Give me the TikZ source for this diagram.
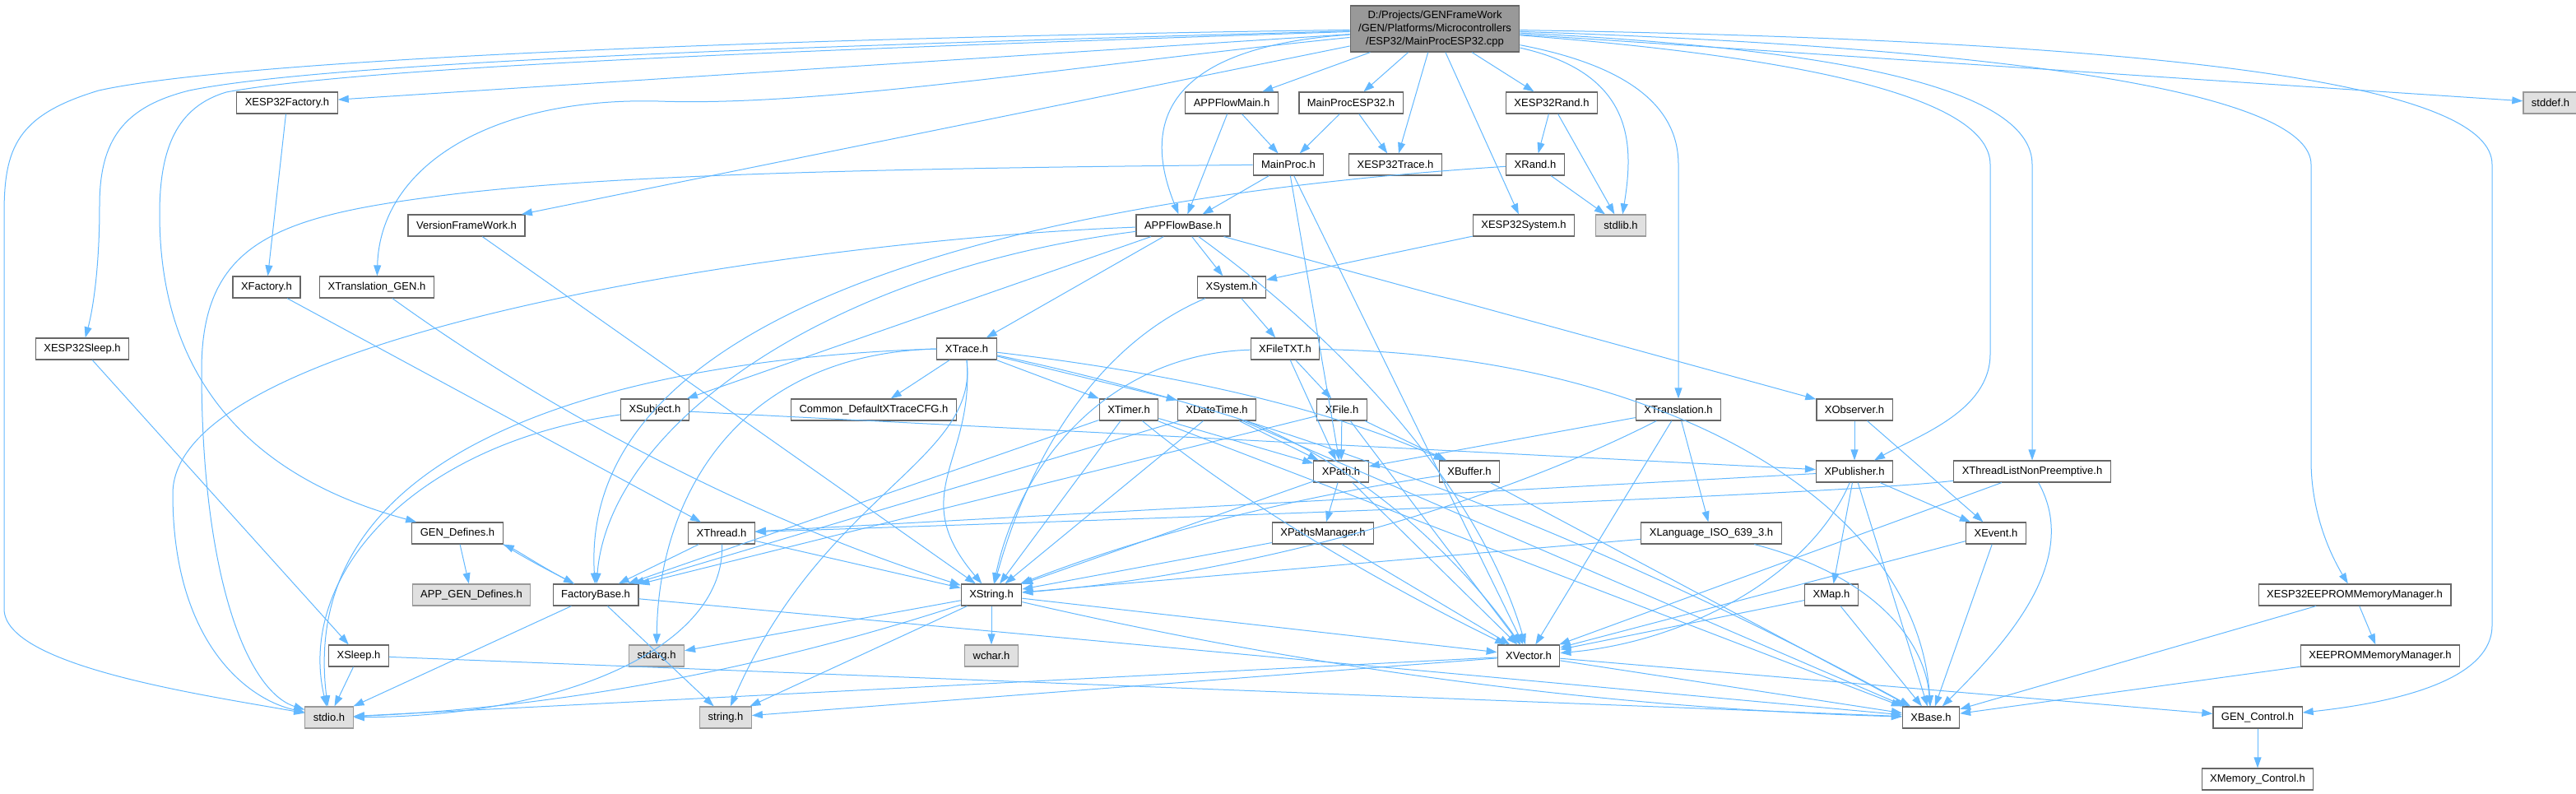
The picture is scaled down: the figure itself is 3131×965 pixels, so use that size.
\documentclass[tikz,border=0pt]{standalone}
\usepackage{fontspec}
\setmainfont{Liberation Sans}
\usepackage{xcolor}
\usepackage{tikz}
\usetikzlibrary{arrows.meta}

\definecolor{edgeblue}{RGB}{99,184,255}
\definecolor{boxline}{RGB}{102,102,102}
\definecolor{sysline}{RGB}{153,153,153}
\definecolor{sysfill}{RGB}{224,224,224}
\definecolor{mainfill}{RGB}{153,153,153}

\begin{document}
\begin{tikzpicture}[
  x=1pt, y=-1pt,
  hdr/.style={draw=boxline, fill=white, line width=1.2pt, inner xsep=10pt,
    minimum height=26pt, font=\fontsize{13}{15}\selectfont},
  syshdr/.style={hdr, draw=sysline, fill=sysfill},
  mainfile/.style={hdr, fill=mainfill, align=center, inner ysep=6pt,
    font=\fontsize{13}{16}\selectfont},
  incl/.style={draw=edgeblue, line width=1pt, -{Triangle[length=13pt,width=9pt]}}
  ]

\useasboundingbox (0,0) rectangle (3131,965);

\node[mainfile] (main) at (1744,35) {D:/Projects/GENFrameWork\\/GEN/Platforms/Microcontrollers\\/ESP32/MainProcESP32.cpp};

\node[hdr] (fac) at (349,125) {XESP32Factory.h};
\node[hdr] (apm) at (1497,125) {APPFlowMain.h};
\node[hdr] (mpe) at (1642,125) {MainProcESP32.h};
\node[hdr] (erand) at (1886,125) {XESP32Rand.h};
\node[syshdr] (stddef) at (3100,125) {stddef.h};

\node[hdr] (mproc) at (1566,200) {MainProc.h};
\node[hdr] (etrace) at (1696,200) {XESP32Trace.h};
\node[hdr] (rand) at (1866,200) {XRand.h};

\node[hdr] (ver) at (567,274) {VersionFrameWork.h};
\node[hdr] (apb) at (1438,274) {APPFlowBase.h};
\node[hdr] (esys) at (1852,274) {XESP32System.h};
\node[syshdr] (stdlib) at (1970,274) {stdlib.h};

\node[hdr] (xfac) at (324,349) {XFactory.h};
\node[hdr] (tgen) at (458,349) {XTranslation\_GEN.h};
\node[hdr] (sys) at (1497,349) {XSystem.h};

\node[hdr] (esleep) at (100,424) {XESP32Sleep.h};
\node[hdr] (trace) at (1175,424) {XTrace.h};
\node[hdr] (ftxt) at (1562,424) {XFileTXT.h};

\node[hdr] (subj) at (796,498) {XSubject.h};
\node[hdr] (cfg) at (1062,498) {Common\_DefaultXTraceCFG.h};
\node[hdr] (timer) at (1372,498) {XTimer.h};
\node[hdr] (dtime) at (1479,498) {XDateTime.h};
\node[hdr] (file) at (1631,498) {XFile.h};
\node[hdr] (trans) at (2040,498) {XTranslation.h};
\node[hdr] (obs) at (2254,498) {XObserver.h};

\node[hdr] (path) at (1630,573) {XPath.h};
\node[hdr] (buf) at (1786,573) {XBuffer.h};
\node[hdr] (pub) at (2254,573) {XPublisher.h};
\node[hdr] (tlist) at (2470,573) {XThreadListNonPreemptive.h};

\node[hdr] (gdef) at (556,648) {GEN\_Defines.h};
\node[hdr] (thread) at (877,648) {XThread.h};
\node[hdr] (pman) at (1608,648) {XPathsManager.h};
\node[hdr] (lang) at (2080,648) {XLanguage\_ISO\_639\_3.h};
\node[hdr] (event) at (2426,648) {XEvent.h};

\node[syshdr] (agdef) at (573,723) {APP\_GEN\_Defines.h};
\node[hdr] (fbase) at (724,723) {FactoryBase.h};
\node[hdr] (str) at (1205,723) {XString.h};
\node[hdr] (map) at (2226,723) {XMap.h};
\node[hdr] (eeesp) at (2862,723) {XESP32EEPROMMemoryManager.h};

\node[hdr] (sleep) at (436,797) {XSleep.h};
\node[syshdr] (stdarg) at (798,797) {stdarg.h};
\node[syshdr] (wchar) at (1205,797) {wchar.h};
\node[hdr] (vec) at (1858,797) {XVector.h};
\node[hdr] (eeprom) at (2893,797) {XEEPROMMemoryManager.h};

\node[syshdr] (stdio) at (400,872) {stdio.h};
\node[syshdr] (string) at (882,872) {string.h};
\node[hdr] (base) at (2347,872) {XBase.h};
\node[hdr] (gctrl) at (2744,872) {GEN\_Control.h};

\node[hdr] (memc) at (2744,947) {XMemory\_Control.h};

\path (main) edge[incl] (fac) edge[incl] (ver) edge[incl] (apm) edge[incl] (mpe)
  edge[incl] (etrace) edge[incl] (esys) edge[incl] (erand) edge[incl] (stddef);
\draw[incl] (main) .. controls (1000,45) and (300,70) .. (120,110)
  .. controls (20,140) and (5,180) .. (5,260) -- (5,740)
  .. controls (5,810) and (250,845) .. (stdio);
\draw[incl] (main) .. controls (1000,55) and (400,75) .. (230,110)
  .. controls (150,130) and (121,170) .. (121,250)
  .. controls (121,330) and (112,380) .. (esleep);
\draw[incl] (main) .. controls (1000,60) and (450,80) .. (275,112)
  .. controls (215,130) and (194,180) .. (194,260)
  .. controls (194,520) and (380,600) .. (gdef);
\draw[incl] (main) .. controls (1300,80) and (1000,130) .. (800,123)
  .. controls (600,118) and (462,200) .. (tgen);
\draw[incl] (main) .. controls (1380,60) and (1400,180) .. (apb);
\draw[incl] (main) .. controls (1990,90) and (1985,180) .. (stdlib);
\draw[incl] (main) .. controls (1980,80) and (2040,130) .. (2040,200) -- (trans);
\draw[incl] (main) .. controls (2200,70) and (2419,120) .. (2419,200) -- (2419,430)
  .. controls (2419,500) and (2330,530) .. (pub);
\draw[incl] (main) .. controls (2250,60) and (2470,110) .. (2470,200) -- (tlist);
\draw[incl] (main) .. controls (2500,60) and (2809,120) .. (2809,200) -- (2809,560)
  .. controls (2809,620) and (2830,670) .. (eeesp);
\draw[incl] (main) .. controls (2700,50) and (3029,110) .. (3029,200) -- (3029,760)
  .. controls (3029,830) and (2900,855) .. (gctrl);

\path (apm) edge[incl] (apb) edge[incl] (mproc);
\path (mpe) edge[incl] (mproc) edge[incl] (etrace);
\path (mproc) edge[incl] (apb) edge[incl] (path) edge[incl] (vec);
\draw[incl] (mproc) .. controls (1000,205) and (700,215) .. (520,240)
  .. controls (330,265) and (245,300) .. (245,450)
  .. controls (245,700) and (300,840) .. (stdio);
\path (erand) edge[incl] (rand) edge[incl] (stdlib);
\path (rand) edge[incl] (stdlib);
\draw[incl] (rand) .. controls (1400,230) and (700,330) .. (fbase);
\path (esys) edge[incl] (sys);
\path (fac) edge[incl] (xfac);
\path (xfac) edge[incl] (thread);
\draw[incl] (tgen) .. controls (687,514) and (936,638) .. (str);
\path (ver) edge[incl] (str);
\path (esleep) edge[incl] (sleep);

\path (apb) edge[incl] (sys) edge[incl] (trace) edge[incl] (subj) edge[incl] (obs);
\draw[incl] (apb) .. controls (1640,420) and (1800,600) .. (vec);
\draw[incl] (apb) .. controls (1000,290) and (210,400) .. (210,600)
  .. controls (210,780) and (300,850) .. (stdio);
\draw[incl] (apb) .. controls (1000,330) and (740,520) .. (fbase);

\path (sys) edge[incl] (ftxt);
\draw[incl] (sys) .. controls (1330,420) and (1250,560) .. (str);
\path (ftxt) edge[incl] (file) edge[incl] (path);
\draw[incl] (ftxt) .. controls (1350,430) and (1240,560) .. (str);
\draw[incl] (ftxt) .. controls (2000,430) and (2330,600) .. (base);

\path (trace) edge[incl] (cfg) edge[incl] (timer) edge[incl] (dtime);
\draw[incl] (trace.south) .. controls (1185,560) and (1100,600) .. (str);
\draw[incl] (trace.south) .. controls (1190,560) and (1000,600) .. (string);
\draw[incl] (trace.west) .. controls (900,430) and (800,600) .. (stdarg);
\draw[incl] (trace.west) .. controls (950,430) and (350,470) .. (stdio);
\draw[incl] (trace) .. controls (1400,450) and (1600,490) .. (buf);
\draw[incl] (trace) .. controls (1560,505) and (1960,660) .. (base);

\path (subj) edge[incl] (pub);
\draw[incl] (subj) .. controls (500,540) and (360,700) .. (stdio);

\path (timer) edge[incl] (str) edge[incl] (path) edge[incl] (base) edge[incl] (fbase);
\draw[incl] (timer) .. controls (1520,620) and (1700,720) .. (vec);
\path (dtime) edge[incl] (str) edge[incl] (path) edge[incl] (base) edge[incl] (fbase);
\draw[incl] (dtime) .. controls (1640,560) and (1760,660) .. (vec);
\path (file) edge[incl] (path) edge[incl] (buf) edge[incl] (vec) edge[incl] (fbase);

\path (path) edge[incl] (pman) edge[incl] (str) edge[incl] (vec);
\path (buf) edge[incl] (base);
\draw[incl] (buf) .. controls (1600,600) and (1420,640) .. (str);
\path (pman) edge[incl] (str) edge[incl] (vec);

\path (trans) edge[incl] (path) edge[incl] (lang) edge[incl] (vec);
\draw[incl] (trans) .. controls (1800,620) and (1500,700) .. (str);
\path (lang) edge[incl] (str);
\draw[incl] (lang) .. controls (2280,700) and (2340,780) .. (base);

\path (obs) edge[incl] (pub) edge[incl] (event);
\path (pub) edge[incl] (thread) edge[incl] (event) edge[incl] (map) edge[incl] (base);
\draw[incl] (pub) .. controls (2200,700) and (2050,780) .. (vec);
\path (tlist) edge[incl] (vec);
\draw[incl] (tlist) .. controls (2530,680) and (2440,780) .. (base);
\draw[incl] (tlist) .. controls (2200,605) and (1100,640) .. (thread);

\path (thread) edge[incl] (str) edge[incl] (fbase);
\draw[incl] (thread) .. controls (882,780) and (700,870) .. (stdio);
\path (event) edge[incl] (vec) edge[incl] (base);
\path (map) edge[incl] (vec) edge[incl] (base);

\path (gdef) edge[incl] (agdef);
\draw[incl] (gdef.south east) .. controls (640,680) and (680,700) .. (fbase);
\draw[incl] (fbase) .. controls (660,690) and (630,670) .. (gdef.south east);
\path (fbase) edge[incl] (stdio) edge[incl] (string) edge[incl] (base);

\path (str) edge[incl] (stdarg) edge[incl] (wchar) edge[incl] (string) edge[incl] (vec);
\draw[incl] (str) .. controls (922,815) and (676,860) .. (stdio);
\draw[incl] (str) .. controls (1560,805) and (1920,860) .. (base);
\path (vec) edge[incl] (base) edge[incl] (gctrl) edge[incl] (stdio) edge[incl] (string);
\path (sleep) edge[incl] (stdio) edge[incl] (base);

\path (eeesp) edge[incl] (eeprom) edge[incl] (base);
\path (eeprom) edge[incl] (base);
\path (gctrl) edge[incl] (memc);

\end{tikzpicture}
\end{document}
